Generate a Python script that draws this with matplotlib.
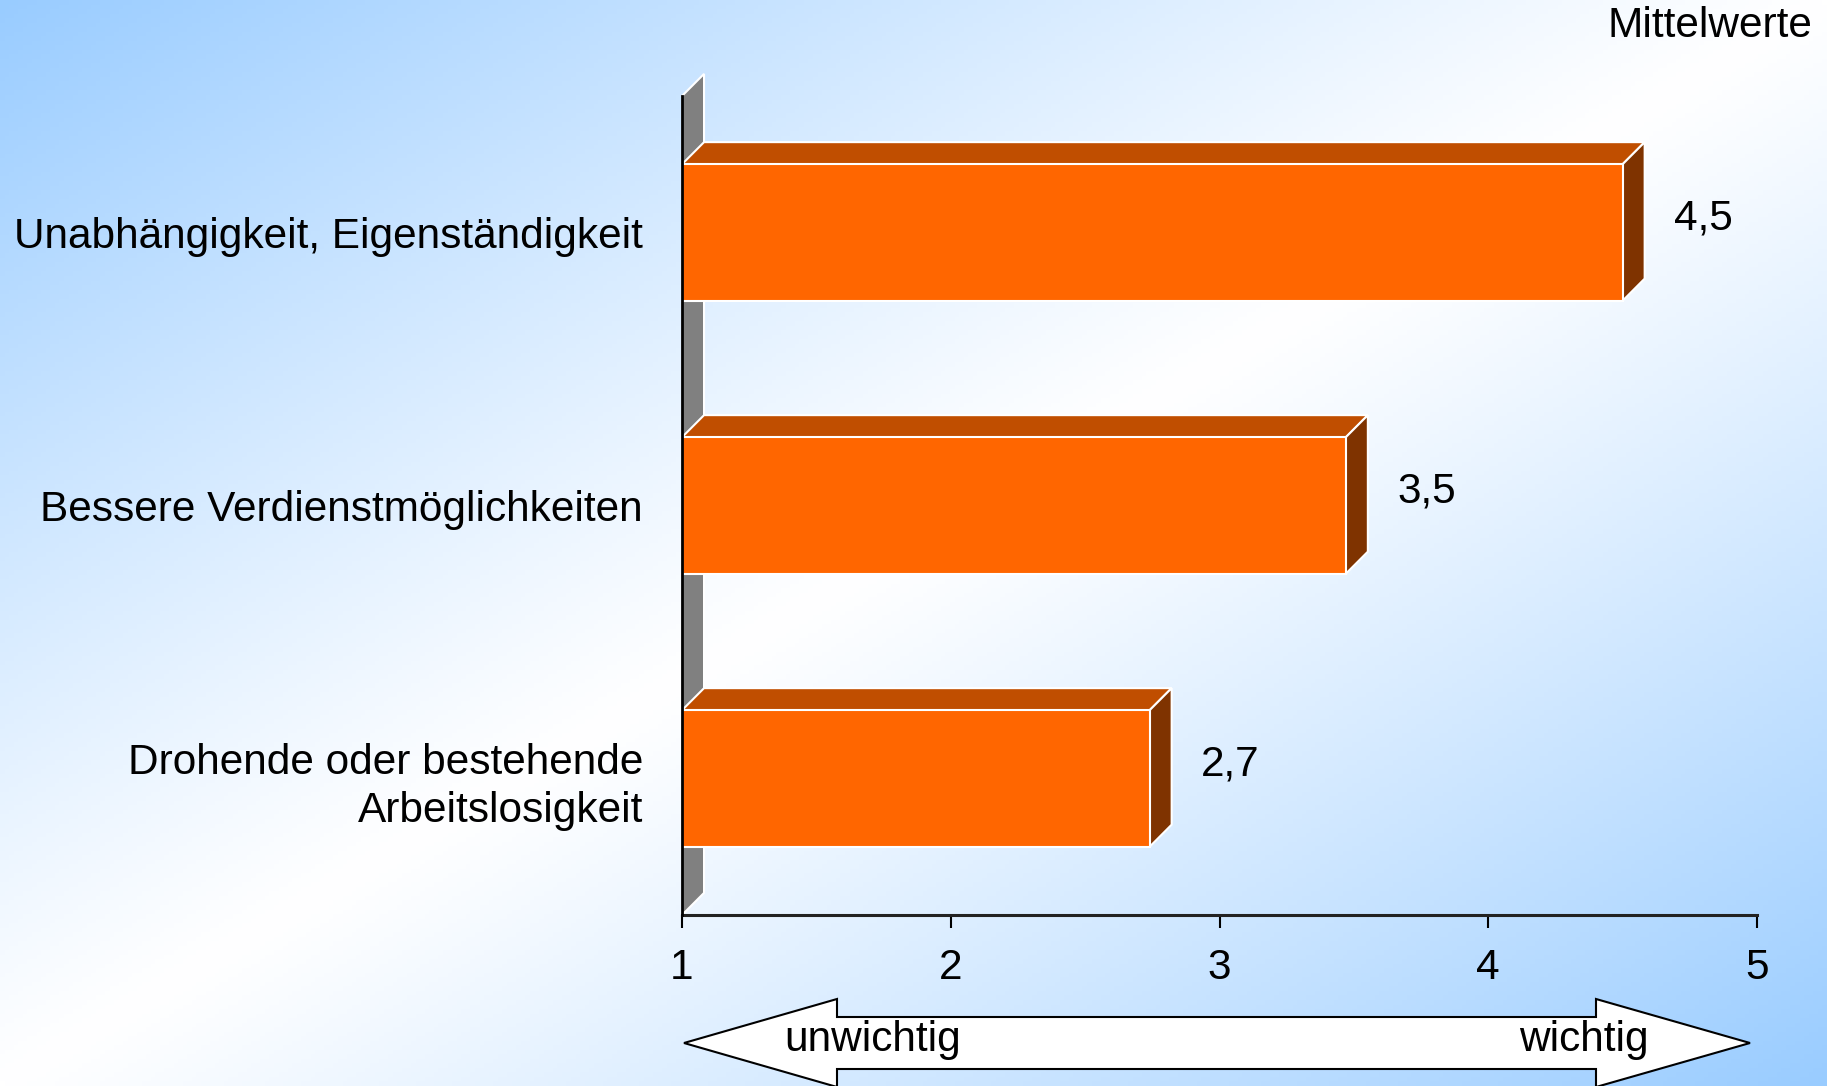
import numpy as np
import matplotlib.pyplot as plt
from matplotlib.patches import Polygon

plt.rcParams['font.family'] = ['Liberation Sans', 'DejaVu Sans']

# data
categories = ['Drohende oder bestehende\nArbeitslosigkeit',
              'Bessere Verdienstmöglichkeiten',
              'Unabhängigkeit, Eigenständigkeit']
values = [2.74, 3.47, 4.50]
value_labels = ['2,7', '3,5', '4,5']
xticks = [1, 2, 3, 4, 5]

FS = 30.5
W, H = 1827, 1086
fig = plt.figure(figsize=(W / 100, H / 100), dpi=100)

# background gradient (blue corners top-left / bottom-right, white diagonal)
bg = fig.add_axes([0, 0, 1, 1])
gx, gy = np.meshgrid(np.linspace(0, 1, 400), np.linspace(0, 1, 240))
t = np.clip(np.abs(gx + gy - 1), 0, 1) ** 1.1
blue = np.array([0.60, 0.80, 1.0])
img = (1 - t)[..., None] * np.ones(3) + t[..., None] * blue
bg.imshow(img, extent=[0, W, H, 0], aspect='auto', zorder=0)
bg.set_xlim(0, W)
bg.set_ylim(H, 0)
bg.axis('off')

# double arrow unwichtig <-> wichtig
arrow = Polygon([[684, 1043], [837, 999], [837, 1017], [1596, 1017], [1596, 999],
                 [1750, 1043], [1596, 1087], [1596, 1069], [837, 1069], [837, 1087]],
                closed=True, facecolor='white', edgecolor='black', lw=1.5, zorder=2)
bg.add_patch(arrow)
bg.text(784, 1040, 'unwichtig', fontsize=FS, ha='left', va='center', zorder=3)
bg.text(1649, 1040, 'wichtig', fontsize=FS, ha='right', va='center', zorder=3)

fig.text(1812 / W, 1 - 26 / H, 'Mittelwerte', fontsize=FS, ha='right', va='center')

# main chart
ax = fig.add_axes([682 / W, (H - 915) / H, 1075 / W, 819 / H])
ax.set_facecolor('none')
ax.set_xlim(1, 5)
ax.set_ylim(0, 3)

pos = np.arange(len(categories)) + 0.5
bh = 0.5
ddx, ddy = 0.082, 0.081   # depth of the 3d effect

# back wall
wall = Polygon([[1, 0], [1 + ddx, ddy], [1 + ddx, 3 + ddy], [1, 3]], closed=True,
               facecolor='#808080', edgecolor='white', lw=1.5, zorder=1, clip_on=False)
ax.add_patch(wall)

for y, v, lab in zip(pos, values, value_labels):
    top = y + bh / 2
    bot = y - bh / 2
    ax.add_patch(Polygon([[1, top], [v, top], [v + ddx, top + ddy], [1 + ddx, top + ddy]],
                         closed=True, facecolor='#C04E00', edgecolor='white', lw=1.5,
                         zorder=2, clip_on=False))
    ax.add_patch(Polygon([[v, bot], [v + ddx, bot + ddy], [v + ddx, top + ddy], [v, top]],
                         closed=True, facecolor='#7F3300', edgecolor='white', lw=1.5,
                         zorder=2, clip_on=False))
    ax.text(v + ddx + 0.11, y + 0.05, lab, fontsize=FS, ha='left', va='center')

ax.barh(pos, np.array(values) - 1, left=1, height=bh, color='#FF6600',
        edgecolor='white', lw=1.5, zorder=3)

ax.set_yticks(pos)
ax.set_yticklabels(categories, fontsize=FS, linespacing=1.25)
ax.tick_params(axis='y', length=0, pad=28)
ax.set_xticks(xticks)
ax.set_xticklabels([str(k) for k in xticks], fontsize=FS)
ax.tick_params(axis='x', direction='out', length=9, width=1.5, pad=15, color='black')

for s in ['top', 'right']:
    ax.spines[s].set_visible(False)
ax.spines['left'].set_linewidth(2)
ax.spines['left'].set_zorder(5)
ax.spines['bottom'].set_linewidth(2.2)
ax.spines['bottom'].set_color('#222222')

fig.savefig('out.png', dpi=100)
